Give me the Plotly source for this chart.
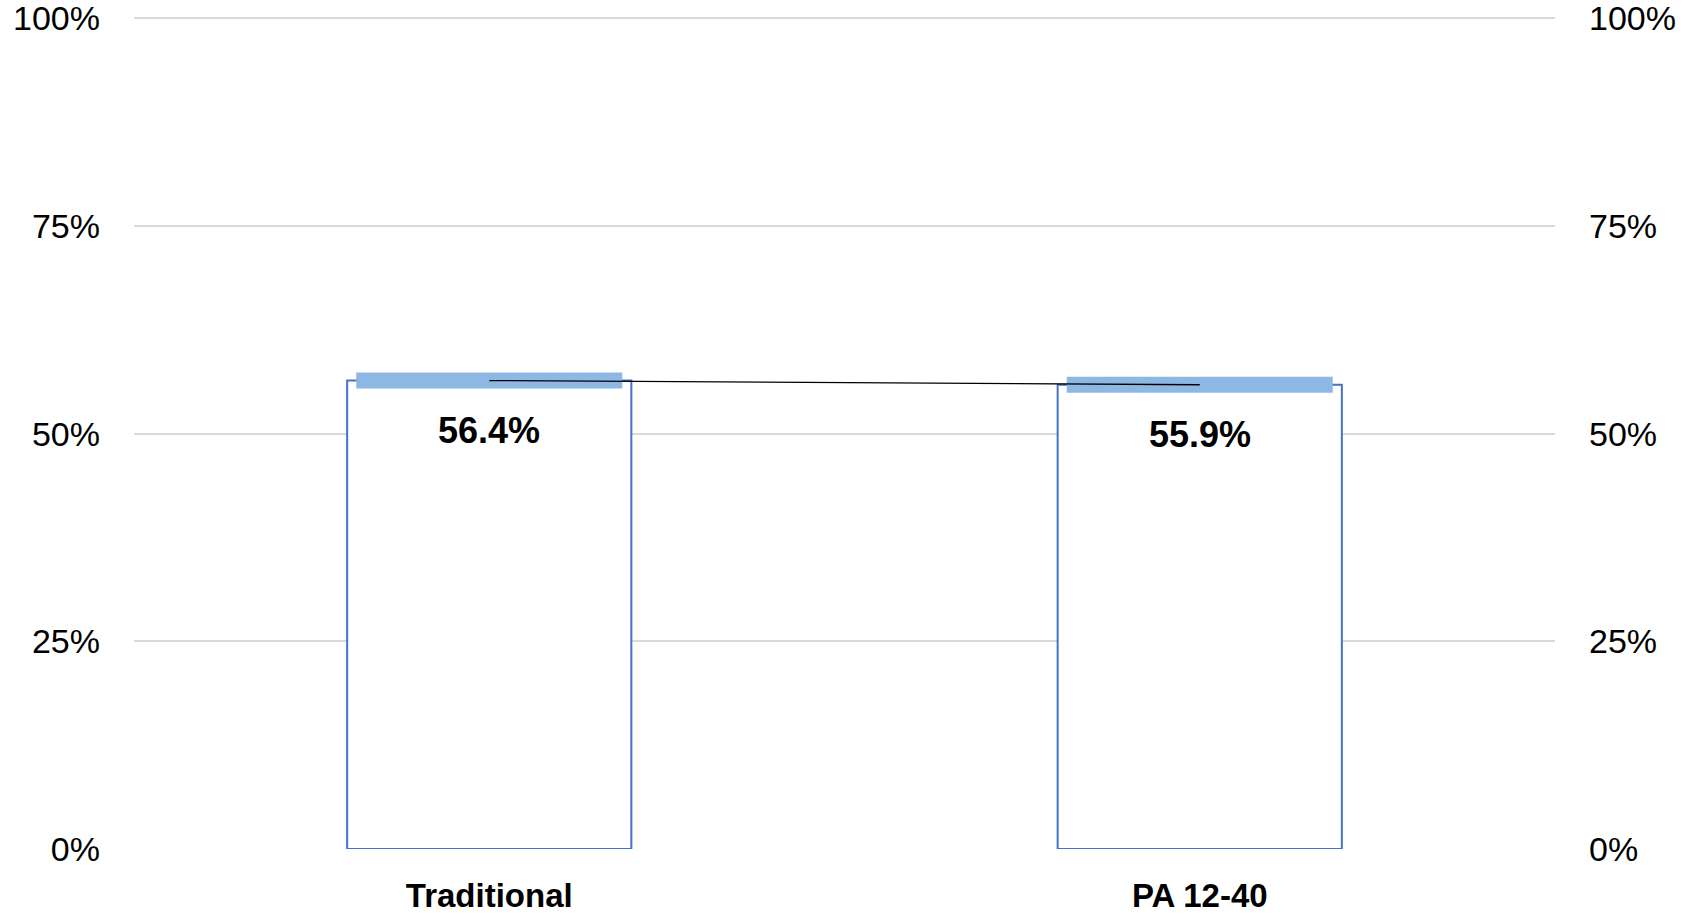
import plotly.graph_objects as go

# Share of outcomes by programme
categories = ["Traditional", "PA 12-40"]
shares = [0.564, 0.559]
tick_vals = [0, 0.25, 0.5, 0.75, 1.0]
tick_text = ["0%", "25%", "50%", "75%", "100%"]

BLUE_EDGE = "#4472C4"
BAND = "#8DB8E3"
GRID = "#D9D9D9"

fig = go.Figure()

# Outlined bars
fig.add_trace(go.Bar(
    x=categories, y=shares, width=0.4,
    marker=dict(color="white", line=dict(color=BLUE_EDGE, width=2)),
    hoverinfo="skip", showlegend=False,
))

# Thick horizontal band marking each value (line-ew length is 1.4 x size)
fig.add_trace(go.Scatter(
    x=categories, y=shares, mode="markers",
    marker=dict(symbol="line-ew", size=190,
                line=dict(color=BAND, width=16), color=BAND),
    hoverinfo="skip", showlegend=False,
))

# Thin line joining the two values, also anchoring the right-hand axis
fig.add_trace(go.Scatter(
    x=categories, y=shares, mode="lines", yaxis="y2",
    line=dict(color="black", width=1.3),
    hoverinfo="skip", showlegend=False,
))

# Value labels beneath each bar top
for c, v in zip(categories, shares):
    fig.add_annotation(
        x=c, y=v, text=f"{v * 100:.1f}%", showarrow=False,
        yanchor="middle", yshift=-50,
        font=dict(family="Liberation Sans, Arial", size=36, color="black", weight="bold"),
    )

tick_font = dict(family="Liberation Sans, Arial", size=34, color="black")
y_range = [0, 1.003]

fig.update_layout(
    width=1689, height=915,
    margin=dict(l=134, r=134, t=16, b=66),
    paper_bgcolor="white", plot_bgcolor="white",
    xaxis=dict(
        type="category", range=[-0.5, 1.5], automargin=False,
        showgrid=False, showline=False, zeroline=False,
        ticks="", ticklabelstandoff=24,
        tickfont=dict(family="Liberation Sans, Arial", size=33,
                      color="black", weight="bold"),
    ),
    yaxis=dict(
        range=y_range, tickvals=tick_vals, ticktext=tick_text, automargin=False,
        showgrid=True, gridcolor=GRID, gridwidth=1.5,
        zeroline=False, showline=False, ticks="",
        ticklabelstandoff=33, tickfont=tick_font, ticklabeloverflow="allow",
    ),
    yaxis2=dict(
        range=y_range, tickvals=tick_vals, ticktext=tick_text, automargin=False,
        overlaying="y", side="right",
        showgrid=False, zeroline=False, showline=False, ticks="",
        ticklabelstandoff=33, tickfont=tick_font, ticklabeloverflow="allow",
    ),
)

fig.write_html("out.html")
